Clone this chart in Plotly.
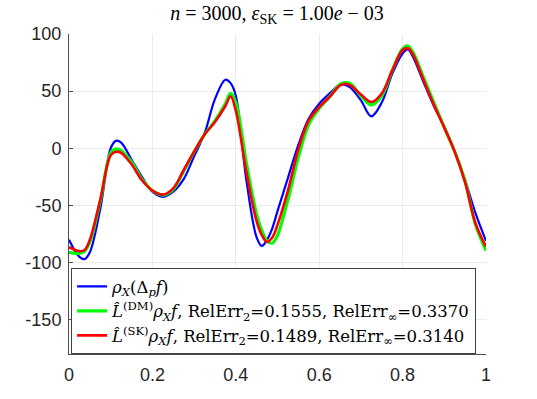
import plotly.graph_objects as go

# sample positions (common grid) and the three curves
x = [0.0, 0.025, 0.0375, 0.05, 0.075, 0.1, 0.1125, 0.125, 0.15, 0.175, 0.2, 0.225, 0.25,
     0.275, 0.3, 0.325, 0.35, 0.375, 0.3875, 0.4, 0.425, 0.45, 0.4625, 0.475, 0.4875, 0.5,
     0.525, 0.55, 0.575, 0.6, 0.625, 0.65, 0.6625, 0.675, 0.7, 0.725, 0.75, 0.775, 0.8,
     0.8125, 0.825, 0.85, 0.875, 0.9, 0.925, 0.95, 0.975, 1.0]

rho_delta = [-80, -95, -97, -91, -53, 0, 6.5, 5, -10, -25, -38, -42.5, -38,
             -27, -7, 13, 43, 60, 57, 46, -27, -78, -85.5, -80, -70, -55,
             -26, 3, 26, 39, 48, 55.5, 55.5, 53, 42, 28, 40, 65, 83,
             86.5, 80, 58, 37, 19, -3, -28, -57, -81]

dm_est = [-91, -92, -90, -82, -46, -4, -0.5, -2, -12, -27, -37, -41, -36,
          -20, -3, 12, 24, 39, 48, 40, -12, -58, -72, -81, -83, -76,
          -45, -8, 21, 35, 45, 56, 57.5, 56.5, 46, 38, 46, 68, 87,
          89.5, 84, 62, 40, 18, -3, -29, -67, -89.5]

sk_est = [-86.6, -90, -89, -80, -45, -6, -3, -4, -14, -28, -37, -40.5, -35,
          -19, -3, 12, 23, 37, 45.5, 33, -20, -64, -76, -82, -78, -67,
          -37, -1, 24.5, 36, 45, 55, 56.5, 55, 47, 40.5, 48, 68, 86,
          87.5, 82, 60, 38, 18, -3, -30, -66, -86]

names = [
    "<i>ρ<sub>X</sub></i>(Δ<sub><i>p</i></sub><i>f</i>)",
    "<i>L\u0302</i><sup>(DM)</sup><i>ρ<sub>X</sub>f</i>, RelErr<sub>2</sub>=0.1555, RelErr<sub>∞</sub>=0.3370",
    "<i>L\u0302</i><sup>(SK)</sup><i>ρ<sub>X</sub>f</i>, RelErr<sub>2</sub>=0.1489, RelErr<sub>∞</sub>=0.3140",
]
colors = ["#0000ff", "#00ff00", "#ff0000"]
widths = [2.2, 3.2, 2.6]

fig = go.Figure()
for y, name, c, w in zip([rho_delta, dm_est, sk_est], names, colors, widths):
    fig.add_trace(go.Scatter(x=x, y=y, mode="lines", name=name,
                             line=dict(color=c, width=w, shape="spline", smoothing=1.0)))

fig.update_layout(
    width=537, height=399,
    margin=dict(l=69, r=51, t=34, b=45),
    plot_bgcolor="white", paper_bgcolor="white",
    title=dict(text="<i>n</i> = 3000, <i>ε</i><sub>SK</sub> = 1.00<i>e</i> − 03",
               x=0.516, xanchor="center", y=0.968, yanchor="middle",
               font=dict(family="Liberation Serif", size=20, color="black")),
    font=dict(family="Liberation Sans", size=18, color="#262626"),
    legend=dict(x=0.005, y=0.268, xanchor="left", yanchor="top",
                bgcolor="white", bordercolor="#404040", borderwidth=1,
                font=dict(family="DejaVu Serif", size=16.5, color="black"),
                tracegroupgap=0, itemwidth=30),
    showlegend=True,
)
fig.update_xaxes(range=[0, 1], tickvals=[0, 0.2, 0.4, 0.6, 0.8, 1],
                 ticktext=["0", "0.2", "0.4", "0.6", "0.8", "1"],
                 showgrid=True, gridcolor="#ebebeb", zeroline=False,
                 showline=True, linecolor="#4d4d4d", linewidth=1,
                 ticks="inside", ticklen=4, tickcolor="#4d4d4d",
                 ticklabelstandoff=4)
fig.update_yaxes(range=[-180, 100], tickvals=[-150, -100, -50, 0, 50, 100],
                 ticktext=["-150", "-100", "-50", "0", "50", "100"],
                 showgrid=True, gridcolor="#ebebeb", zeroline=False,
                 showline=True, linecolor="#4d4d4d", linewidth=1,
                 ticks="inside", ticklen=4, tickcolor="#4d4d4d",
                 ticklabelstandoff=3)

# drop the page's default body margin so the figure sits at the window's corner
fig.write_html("out.html", config={"displayModeBar": False},
               post_script="document.body.style.margin='0';")
